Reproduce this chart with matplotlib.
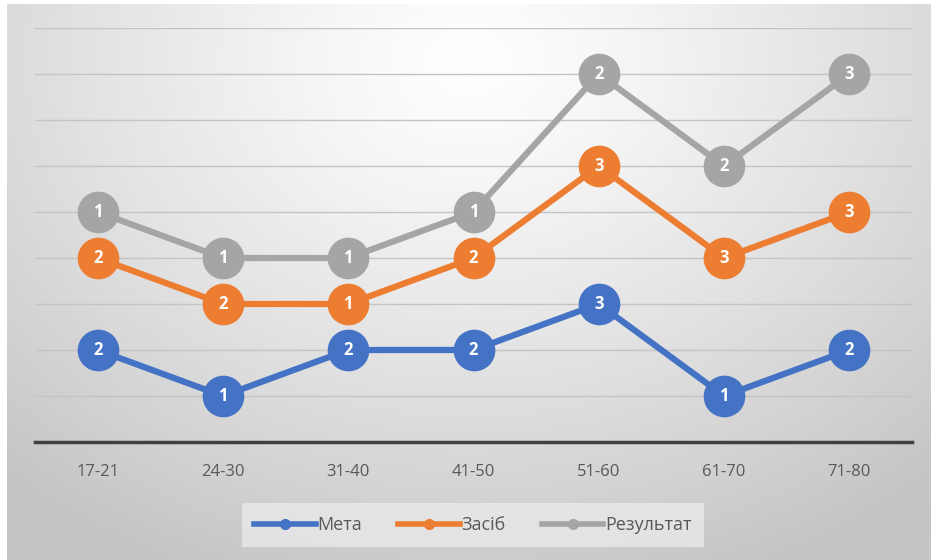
import numpy as np
import matplotlib.pyplot as plt

plt.rcParams['font.family'] = ['Open Sans', 'DejaVu Sans']

# age groups and per-series scores (lines are stacked)
groups = ['17-21', '24-30', '31-40', '41-50', '51-60', '61-70', '71-80']
meta = [2, 1, 2, 2, 3, 1, 2]
zasib = [2, 2, 1, 2, 3, 3, 3]
rezultat = [1, 1, 1, 1, 2, 2, 3]

names = ['Мета', 'Засіб', 'Результат']
colors = ['#4472C4', '#ED7D31', '#A5A5A5']

fig = plt.figure(figsize=(9.31, 5.60), dpi=100)

# soft radial background
bg = fig.add_axes([7 / 931, 0, 1 - 7 / 931, 1 - 4 / 560])
bg.set_axis_off()
yy, xx = np.mgrid[0:1:300j, 0:1:500j]
dist = np.sqrt(((xx - 0.5) * 1.0) ** 2 + ((yy - 0.1) * 0.75) ** 2)
shade = 255 - 58 * np.clip(dist / 0.75, 0, 1) ** 1.2
img = np.dstack([shade, shade, shade]) / 255
bg.imshow(img, aspect='auto', extent=[0, 1, 1, 0])
bg.set_xlim(0, 1)
bg.set_ylim(1, 0)

ax = fig.add_axes([35 / 931, (560 - 442) / 560, 877 / 931, (442 - 28) / 560])
ax.patch.set_alpha(0)

x = np.arange(len(groups))
series = [meta, zasib, rezultat]
base = np.zeros(len(groups))
for vals, name, col in zip(series, names, colors):
    top = base + np.array(vals)
    ax.plot(x, top, color=col, lw=4.5, marker='o', markersize=30,
            markeredgewidth=0, label=name, zorder=3, solid_capstyle='round')
    for xi, yi, v in zip(x, top, vals):
        ax.text(xi, yi, str(v), ha='center', va='center', color='white',
                fontsize=12, fontweight='bold', zorder=4)
    base = top

ax.set_xlim(-0.5, len(groups) - 0.5)
ax.set_ylim(0, 9)
ax.set_yticks(range(1, 10))
ax.yaxis.grid(True, color='#c4c4c4', lw=1)
ax.set_axisbelow(True)
ax.tick_params(axis='y', left=False, labelleft=False)
ax.tick_params(axis='x', length=0, pad=16, labelsize=12, labelcolor='#595959')
ax.set_xticks(x)
ax.set_xticklabels(groups)
for s in ['top', 'right', 'left']:
    ax.spines[s].set_visible(False)
ax.spines['bottom'].set_color('#404040')
ax.spines['bottom'].set_linewidth(2.5)

handles = [plt.Line2D([], [], color=c, lw=4, marker='o', markersize=7) for c in colors]
leg = fig.legend(handles, names, loc='center', bbox_to_anchor=(473 / 931, 1 - 525 / 560),
                 ncol=3, frameon=True, fontsize=13, handlelength=3.4,
                 handletextpad=0.1, columnspacing=2.0, borderpad=0.7,
                 labelcolor='#595959')
leg.get_frame().set_facecolor('#e9e9e9')
leg.get_frame().set_edgecolor('none')
leg.get_frame().set_boxstyle('square', pad=0)

fig.savefig('out.png', dpi=100)
